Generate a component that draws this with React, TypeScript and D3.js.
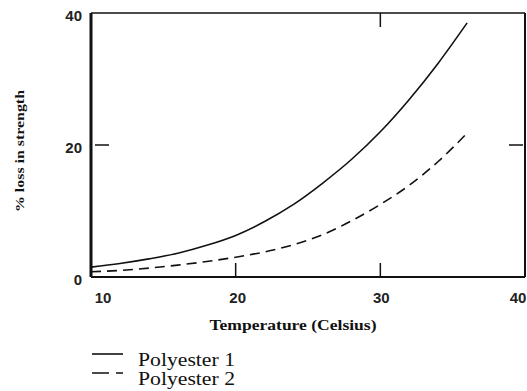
import React, { useEffect, useRef } from "react";
import * as d3 from "d3";

// temperature (Celsius)
const temps = [10, 12, 14, 16, 18, 20, 22, 24, 26, 28, 30, 32, 34, 36];
const polyester1 = [1.5, 2.05, 2.75, 3.6, 4.8, 6.3, 8.4, 11.0, 14.2, 17.8, 22.0, 26.9, 32.4, 38.5];
const polyester2 = [0.8, 1.0, 1.35, 1.8, 2.35, 3.0, 3.8, 4.9, 6.4, 8.5, 11.0, 13.9, 17.5, 21.8];

const xTicks = [10, 20, 30, 40];
const yTicks = [0, 20, 40];
const seriesNames = ["Polyester 1", "Polyester 2"];

const width = 527;
const height = 391;
const margin = { top: 13, right: 2, bottom: 114, left: 91 };

export default function App() {
  const ref = useRef<SVGSVGElement>(null);

  useEffect(() => {
    const svg = d3.select(ref.current);
    svg.selectAll("*").remove();

    const innerW = width - margin.left - margin.right;
    const innerH = height - margin.top - margin.bottom;

    const x = d3.scaleLinear().domain([10, 40]).range([margin.left, margin.left + innerW]);
    const y = d3.scaleLinear().domain([0, 40]).range([margin.top + innerH, margin.top]);

    const g = svg.append("g");

    // frame
    const x0 = x(10), x1 = x(40), yb = y(0), yt = y(40);
    g.append("line").attr("x1", x0).attr("x2", x0).attr("y1", yt).attr("y2", yb).attr("stroke", "#111").attr("stroke-width", 3);
    g.append("line").attr("x1", x0).attr("x2", x1).attr("y1", yb).attr("y2", yb).attr("stroke", "#111").attr("stroke-width", 2);
    g.append("line").attr("x1", x0).attr("x2", x1).attr("y1", yt).attr("y2", yt).attr("stroke", "#111").attr("stroke-width", 1.6);
    g.append("line").attr("x1", x1).attr("x2", x1).attr("y1", yt).attr("y2", yb).attr("stroke", "#111").attr("stroke-width", 2);

    // inward ticks
    [20, 30].forEach(v => {
      g.append("line").attr("x1", x(v)).attr("x2", x(v)).attr("y1", yb).attr("y2", yb - 14).attr("stroke", "#111").attr("stroke-width", 1.5);
    });
    g.append("line").attr("x1", x(30)).attr("x2", x(30)).attr("y1", yt).attr("y2", yt + 14).attr("stroke", "#111").attr("stroke-width", 1.5);
    g.append("line").attr("x1", x0 + 4).attr("x2", x0 + 18).attr("y1", y(20)).attr("y2", y(20)).attr("stroke", "#111").attr("stroke-width", 1.5);
    g.append("line").attr("x1", x1 - 16).attr("x2", x1 - 2).attr("y1", y(20)).attr("y2", y(20)).attr("stroke", "#111").attr("stroke-width", 1.5);

    // tick labels
    const tickFont = "'Liberation Sans', Arial, sans-serif";
    g.selectAll(".ylab").data(yTicks).join("text").attr("class", "ylab")
      .attr("x", 82).attr("y", d => y(d) + 8)
      .attr("text-anchor", "end").attr("font-family", tickFont).attr("font-weight", "bold").attr("font-size", 15)
      .attr("fill", "#222").text(d => d);
    const xOffset: Record<number, number> = { 10: 12, 20: 2, 30: 1, 40: -7 };
    g.selectAll(".xlab").data(xTicks).join("text").attr("class", "xlab")
      .attr("x", d => x(d) + xOffset[d]).attr("y", 303)
      .attr("text-anchor", "middle").attr("font-family", tickFont).attr("font-weight", "bold").attr("font-size", 15)
      .attr("fill", "#222").text(d => d);

    // axis titles
    g.append("text").attr("x", 293).attr("y", 330).attr("text-anchor", "middle")
      .attr("font-family", "'Liberation Serif', 'Times New Roman', serif").attr("font-weight", "bold").attr("font-size", 15)
      .attr("textLength", 167).attr("lengthAdjust", "spacingAndGlyphs")
      .attr("fill", "#111").text("Temperature (Celsius)");
    g.append("text").attr("transform", "translate(24,151) rotate(-90)").attr("text-anchor", "middle")
      .attr("font-family", "'Liberation Serif', 'Times New Roman', serif").attr("font-weight", "bold").attr("font-size", 13)
      .attr("textLength", 122).attr("lengthAdjust", "spacingAndGlyphs")
      .attr("fill", "#111").text("% loss in strength");

    // curves
    const line = d3.line<number>().x((_, i) => x(temps[i])).y(d => y(d)).curve(d3.curveMonotoneX);
    g.append("path").attr("d", line(polyester1)).attr("fill", "none").attr("stroke", "#111").attr("stroke-width", 1.6);
    g.append("path").attr("d", line(polyester2)).attr("fill", "none").attr("stroke", "#111").attr("stroke-width", 1.6)
      .attr("stroke-dasharray", "10,6");

    // legend
    const legendY = [354, 373];
    const dashes = [null, "17,7,7,100"];
    seriesNames.forEach((name, i) => {
      const l = g.append("line").attr("x1", 92).attr("x2", 123).attr("y1", legendY[i]).attr("y2", legendY[i])
        .attr("stroke", "#111").attr("stroke-width", 1.6);
      if (dashes[i]) l.attr("stroke-dasharray", dashes[i] as string);
      g.append("text").attr("x", 138).attr("y", legendY[i] + 12)
        .attr("font-family", "'Liberation Serif', 'Times New Roman', serif").attr("font-size", 19)
        .attr("textLength", 97).attr("lengthAdjust", "spacingAndGlyphs")
        .attr("fill", "#111").text(name);
    });
  }, []);

  return (
    <svg ref={ref} width={width} height={height}
      style={{ position: "absolute", left: 0, top: 0, background: "#fff" }} />
  );
}
